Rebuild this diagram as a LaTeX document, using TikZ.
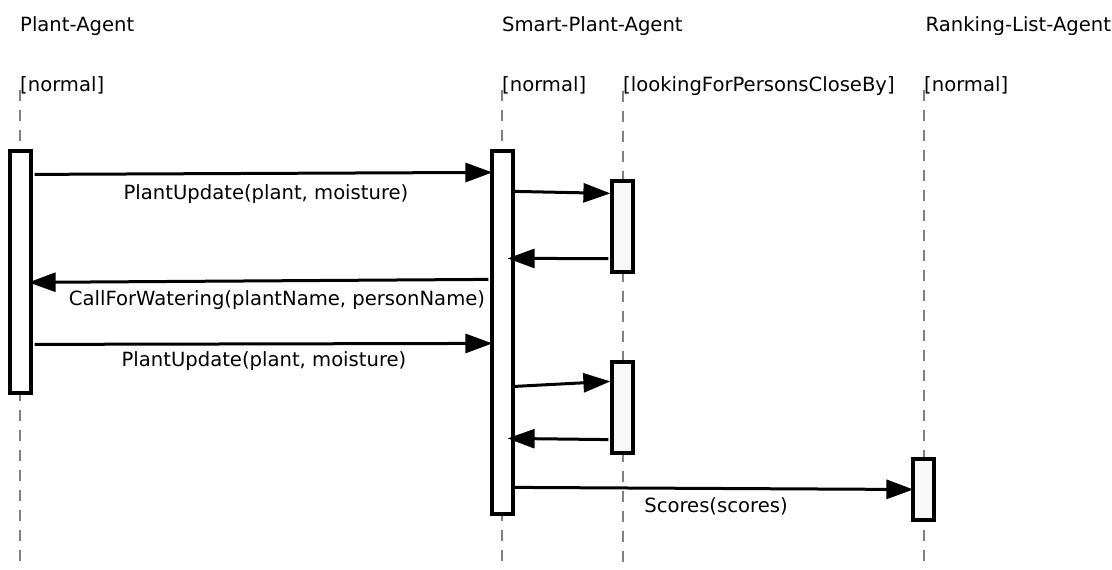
\documentclass[tikz,border=0pt]{standalone}
\usepackage{fontspec}
\setmainfont{DejaVu Sans}
\usetikzlibrary{arrows.meta, positioning}
\definecolor{lifegray}{RGB}{128, 128, 128}
\definecolor{actfill}{RGB}{248, 248, 248}

\begin{document}
\begin{tikzpicture}[x=1pt, y=-1pt,
    txt/.style={font=\fontsize{19.6}{24}\selectfont, inner sep=0pt, anchor=base west},
    lbl/.style={font=\fontsize{19.6}{24}\selectfont, inner sep=0pt, anchor=base},
    life/.style={draw=lifegray, line width=2.8pt, dash pattern=on 11pt off 9pt},
    act/.style={rectangle, draw, line width=3.2pt, fill=white, minimum width=21pt, inner sep=0pt},
    subact/.style={act, fill=actfill},
    msg/.style={line width=3pt, -{Triangle[length=27pt, width=19pt]}}]

    \clip (0,0) rectangle (1112,570);
    \fill[white] (0,0) rectangle (1112,570);

    % agents and states
    \node[txt] (plant) at (20,31) {Plant-Agent};
    \node[txt] (smart) at (502,31) {Smart-Plant-Agent};
    \node[txt] (rank) at (925.5,31) {Ranking-List-Agent};
    \node[txt] (plantN) at (20,91) {[normal]};
    \node[txt] (smartN) at (502,91) {[normal]};
    \node[txt] (smartL) at (623,91) {[lookingForPersonsCloseBy]};
    \node[txt] (rankN) at (924,91) {[normal]};

    % lifelines
    \coordinate (plantE) at (20,570);
    \coordinate (smartE) at (502,570);
    \coordinate (lookE) at (623,570);
    \coordinate (rankE) at (924,570);
    \draw[life] (plantN.south west) ++(0,-4) coordinate (plantS) -- (plantE);
    \draw[life] (smartN.south west) ++(0,-4) coordinate (smartS) -- (smartE);
    \draw[life] (smartL.south west) ++(0,-4) coordinate (lookS) -- (lookE);
    \draw[life] (rankN.south west) ++(0,-4) coordinate (rankS) -- (rankE);

    % activations
    \node[act, minimum height=242pt] (pa) at (20.5,272) {};
    \node[act, minimum height=363pt] (spa) at (502.5,332.5) {};
    \node[subact, minimum height=91pt] (look1) at (622.5,226.5) {};
    \node[subact, minimum height=91pt] (look2) at (622.5,407.5) {};
    \node[subact, minimum height=61pt] (rla) at (923.5,489.5) {};

    % messages
    \draw[msg] ([xshift=2pt, yshift=-25pt]pa.north east) -- ([xshift=2pt, yshift=-23pt]spa.north west);
    \draw[msg] ([yshift=-42pt]spa.north east) -- ([yshift=-14pt]look1.north west);
    \draw[msg] ([xshift=-2pt, yshift=15pt]look1.south west) -- ([xshift=-7pt, yshift=-109pt]spa.north east);
    \draw[msg] ([xshift=-2pt, yshift=-130pt]spa.north west) -- ([xshift=-4pt, yshift=-133pt]pa.north east);
    \draw[msg] ([xshift=2pt, yshift=-195pt]pa.north east) -- ([xshift=2pt, yshift=-194pt]spa.north west);
    \draw[msg] ([yshift=-237pt]spa.north east) -- ([yshift=-21pt]look2.north west);
    \draw[msg] ([xshift=-2pt, yshift=15pt]look2.south west) -- ([xshift=-7pt, yshift=-289pt]spa.north east);
    \draw[msg] ([yshift=-338pt]spa.north east) -- ([xshift=2pt]rla.west);

    % message labels
    \node[lbl] (m1) at (266,199) {PlantUpdate(plant, moisture)};
    \node[lbl] (m2) at (277,305) {CallForWatering(plantName, personName)};
    \node[lbl] (m3) at (264,366) {PlantUpdate(plant, moisture)};
    \node[lbl] (m4) at (716,512) {Scores(scores)};
\end{tikzpicture}
\end{document}
